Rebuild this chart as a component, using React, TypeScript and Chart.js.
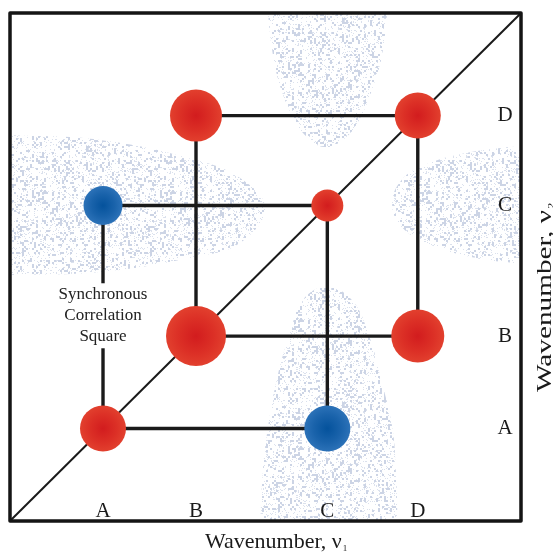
import { useEffect, useRef } from 'react';
import { Chart, registerables } from 'chart.js';

Chart.register(...registerables);

// ---- data ----
const bandNames = ['A', 'B', 'C', 'D'];
const bandPositions = [18.2, 36.4, 62.1, 79.8];

const xAxisTitle = 'Wavenumber, ν';
const xAxisSub = '1';
const yAxisTitle = 'Wavenumber, ν';
const yAxisSub = '2';

const noteLines = ['Synchronous', 'Correlation', 'Square'];
const noteBand = 'A';
const noteY = 40.4;

// peaks (x band, y band, size, sign: 1 = positive / red, -1 = negative / blue)
const peakX = ['A', 'B', 'C', 'D', 'A', 'C', 'B', 'D'];
const peakY = ['A', 'B', 'C', 'D', 'C', 'A', 'D', 'B'];
const peakSize = [23, 30, 16, 23, 19.5, 23, 26, 26.5];
const peakSign = [1, 1, 1, 1, -1, -1, 1, 1];

// correlation-square edges
const edgeFromX = ['A', 'A', 'A', 'C', 'B', 'B', 'B', 'D'];
const edgeFromY = ['A', 'A', 'C', 'C', 'D', 'D', 'B', 'D'];
const edgeToX = ['C', 'A', 'C', 'C', 'D', 'B', 'D', 'D'];
const edgeToY = ['A', 'C', 'C', 'A', 'D', 'B', 'B', 'B'];

// asynchronous cross-peak regions (outlines)
const topBlobX = [50.3, 51.3, 52.8, 55.2, 57.7, 61.6, 65.6, 68.5, 70.8, 72.8, 74.0];
const topBlobY = [102, 92.7, 85.8, 79.9, 76.0, 73.6, 75.4, 79.3, 84.8, 91.7, 102];
const bottomBlobX = [48.9, 49.5, 50.5, 52.4, 54.8, 57.3, 62.0, 66.9, 70.1, 72.4, 74.8, 75.5, 75.9];
const bottomBlobY = [-2, 10.0, 18.5, 28.7, 37.0, 43.5, 46.1, 43.5, 37.0, 28.7, 18.5, 10.0, -2];
const rightBlobX = [102, 90.0, 80.2, 76.3, 74.8, 75.9, 80.2, 90.0, 102];
const rightBlobY = [74.0, 72.6, 69.7, 66.7, 62.8, 58.9, 55.3, 52.0, 50.4];
const leftBlobX = [-2, 17.6, 36.2, 45.0, 49.9, 45.0, 36.2, 17.6, -2];
const leftBlobY = [76.0, 75.0, 71.1, 67.5, 61.6, 54.7, 52.0, 49.0, 48.4];

const diagonalX = [0, 100];
const diagonalY = [0, 100];

// ---- helpers ----
const bandPos = (name: string) => bandPositions[bandNames.indexOf(name)];
const zip = (xs: number[], ys: number[]) => xs.map((x, i) => ({ x, y: ys[i] }));

function hash(x: number, y: number) {
  let n = Math.imul(x, 374761393) + Math.imul(y, 668265263);
  n = Math.imul(n ^ (n >>> 13), 1274126177);
  n = n ^ (n >>> 16);
  return (n >>> 0) / 4294967296;
}

function makeSpeckle(ctx: CanvasRenderingContext2D) {
  const size = 128;
  const c = document.createElement('canvas');
  c.width = size;
  c.height = size;
  const g = c.getContext('2d')!;
  const img = g.createImageData(size, size);
  for (let y = 0; y < size; y++) {
    for (let x = 0; x < size; x++) {
      const cell = hash(x >> 1, (y >> 1) + 977);
      const px = hash(x + 311, y);
      const i = (y * size + x) * 4;
      if (cell < 0.17 || px < 0.1) {
        img.data[i] = 190;
        img.data[i + 1] = 200;
        img.data[i + 2] = 222;
        img.data[i + 3] = cell < 0.17 ? 200 : 140;
      }
    }
  }
  g.putImageData(img, 0, 0);
  return ctx.createPattern(c, 'repeat')!;
}

const FONT = '"Liberation Serif", "Times New Roman", serif';

const decorPlugin = {
  id: 'decor',
  afterDatasetsDraw(chart: any) {
    const { ctx, chartArea: a, scales } = chart;
    const xs = scales.x;
    const ys = scales.y;
    ctx.save();

    // note with white background
    const nx = xs.getPixelForValue(bandPos(noteBand));
    const ny = ys.getPixelForValue(noteY);
    ctx.font = `17px ${FONT}`;
    const lh = 21;
    ctx.fillStyle = '#ffffff';
    ctx.fillRect(nx - 8, ny - lh * 1.5 - 1, 16, lh * 3 + 2);
    ctx.fillStyle = '#222222';
    ctx.textAlign = 'center';
    ctx.textBaseline = 'middle';
    noteLines.forEach((t, i) => ctx.fillText(t, nx, ny + (i - 1) * lh));

    // band labels
    ctx.font = `21px ${FONT}`;
    ctx.fillStyle = '#1a1a1a';
    ctx.textAlign = 'center';
    ctx.textBaseline = 'alphabetic';
    bandNames.forEach((n, i) => {
      ctx.fillText(n, xs.getPixelForValue(bandPositions[i]), a.bottom - 4);
    });
    ctx.textBaseline = 'middle';
    bandNames.forEach((n, i) => {
      ctx.fillText(n, a.right - 16, ys.getPixelForValue(bandPositions[i]));
    });

    // frame
    ctx.strokeStyle = '#151515';
    ctx.lineWidth = 3.5;
    ctx.lineJoin = 'round';
    ctx.strokeRect(a.left, a.top, a.right - a.left, a.bottom - a.top);

    // axis titles
    ctx.fillStyle = '#1a1a1a';
    ctx.textAlign = 'left';
    ctx.textBaseline = 'alphabetic';
    ctx.font = `22px ${FONT}`;
    const bx = 205;
    const by = 548;
    ctx.fillText(xAxisTitle, bx, by);
    const bw = ctx.measureText(xAxisTitle).width;
    ctx.font = `9px ${FONT}`;
    ctx.fillText(xAxisSub, bx + bw + 1, by + 3);

    ctx.translate(551, 392);
    ctx.rotate(-Math.PI / 2);
    ctx.scale(1.33, 1);
    ctx.font = `22px ${FONT}`;
    ctx.fillText(yAxisTitle, 0, 0);
    const rw = ctx.measureText(yAxisTitle).width;
    ctx.font = `9px ${FONT}`;
    ctx.fillText(yAxisSub, rw + 1, 3);

    ctx.restore();
  },
};

export default function App() {
  const ref = useRef<HTMLCanvasElement | null>(null);

  useEffect(() => {
    const canvas = ref.current!;
    const ctx2d = canvas.getContext('2d')!;
    const speckle = makeSpeckle(ctx2d);

    const blob = (xs: number[], ys: number[]) => ({
      type: 'scatter' as const,
      data: zip(xs, ys),
      showLine: true,
      fill: 'shape',
      backgroundColor: speckle,
      borderColor: 'rgba(0,0,0,0)',
      borderWidth: 0,
      pointRadius: 0,
      tension: 0.4,
      order: 5,
    });

    const edges = edgeFromX.map((fx, i) => ({
      type: 'scatter' as const,
      data: [
        { x: bandPos(fx), y: bandPos(edgeFromY[i]) },
        { x: bandPos(edgeToX[i]), y: bandPos(edgeToY[i]) },
      ],
      showLine: true,
      borderColor: '#1a1a1a',
      borderWidth: 3.4,
      pointRadius: 0,
      fill: false,
      order: 3,
    }));

    const peaks = peakX.map((px, i) => ({
      x: bandPos(px),
      y: bandPos(peakY[i]),
      r: peakSize[i],
      s: peakSign[i],
    }));

    const chart = new Chart(canvas, {
      type: 'bubble',
      data: {
        datasets: [
          blob(topBlobX, topBlobY),
          blob(bottomBlobX, bottomBlobY),
          blob(rightBlobX, rightBlobY),
          blob(leftBlobX, leftBlobY),
          {
            type: 'scatter',
            data: zip(diagonalX, diagonalY),
            showLine: true,
            borderColor: '#1a1a1a',
            borderWidth: 2,
            pointRadius: 0,
            fill: false,
            order: 4,
          } as any,
          ...edges,
          {
            type: 'bubble',
            data: peaks,
            borderWidth: 0,
            hoverRadius: 0,
            order: 1,
            backgroundColor: (c: any) => {
              const raw = c.raw;
              const flat = raw && raw.s < 0 ? '#1a63ab' : '#d9302a';
              if (!raw) return flat;
              const ch = c.chart;
              const x = ch.scales.x.getPixelForValue(raw.x);
              const y = ch.scales.y.getPixelForValue(raw.y);
              if (!isFinite(x) || !isFinite(y) || !ch.chartArea) return flat;
              const g = ch.ctx.createRadialGradient(x, y, 0, x, y, raw.r);
              if (raw.s > 0) {
                g.addColorStop(0, '#d21c1e');
                g.addColorStop(0.6, '#dc3026');
                g.addColorStop(1, '#e2402e');
              } else {
                g.addColorStop(0, '#04529c');
                g.addColorStop(0.6, '#1a63ab');
                g.addColorStop(1, '#2c72b8');
              }
              return g;
            },
          } as any,
        ] as any,
      },
      options: {
        animation: false,
        responsive: false,
        maintainAspectRatio: false,
        events: [],
        layout: { autoPadding: false, padding: { left: 10, top: 13, right: 32, bottom: 32 } },
        plugins: { legend: { display: false }, tooltip: { enabled: false } },
        scales: {
          x: { type: 'linear', min: 0, max: 100, display: false },
          y: { type: 'linear', min: 0, max: 100, display: false },
        },
      },
      plugins: [decorPlugin],
    });
    return () => chart.destroy();
  }, []);

  return (
    <div style={{ position: 'absolute', left: 0, top: 0, width: 553, height: 553, background: '#fff' }}>
      <canvas ref={ref} width={553} height={553} style={{ width: 553, height: 553 }} />
    </div>
  );
}
